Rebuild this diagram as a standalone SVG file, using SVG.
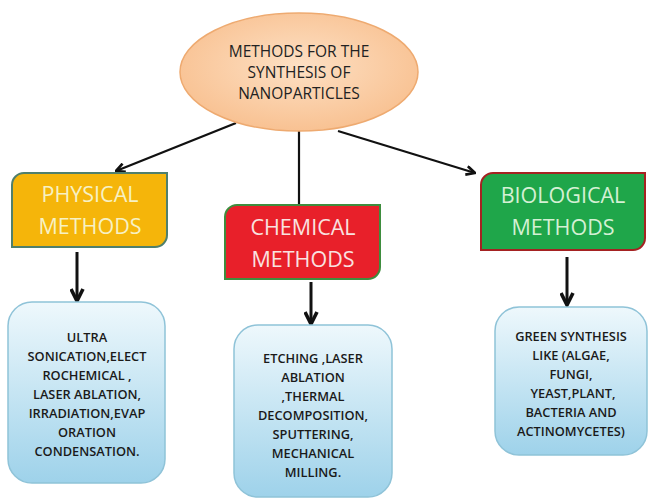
<svg xmlns="http://www.w3.org/2000/svg" width="651" height="501" viewBox="0 0 651 501">
<style>
.hd{font-family:"Open Sans","Liberation Sans",sans-serif;font-size:21.5px;text-anchor:middle}
.bt{font-family:"Open Sans","Liberation Sans",sans-serif;font-size:12.8px;font-weight:600;fill:#1a1a1a;text-anchor:middle}
.et{font-family:"Open Sans","Liberation Sans",sans-serif;font-size:15.5px;fill:#222;text-anchor:middle}
.blue{fill:url(#bg);stroke:#8fc3d8;stroke-width:1.5}
.con{stroke:#111;fill:none}
</style>
<defs>
<linearGradient id="bg" x1="0" y1="0" x2="0" y2="1">
<stop offset="0" stop-color="#eef8fc"/>
<stop offset="1" stop-color="#9ed2ea"/>
</linearGradient>
<radialGradient id="eg" cx="0.5" cy="0.45" r="0.6">
<stop offset="0" stop-color="#fde0c4"/>
<stop offset="1" stop-color="#f8bf8e"/>
</radialGradient>
<marker id="ah" viewBox="0 0 10 10" refX="9" refY="5" markerWidth="5" markerHeight="5" orient="auto" markerUnits="strokeWidth">
<path d="M1,1 L9,5 L1,9" fill="none" stroke="#111" stroke-width="2.4"/>
</marker>
</defs>
<rect width="651" height="501" fill="#fff"/>
<g id="connectors">
<line class="con" x1="236" y1="123" x2="116" y2="171" stroke-width="2.2" marker-end="url(#ah)"/>
<line class="con" x1="299" y1="131" x2="299" y2="205" stroke-width="2.2"/>
<line class="con" x1="338" y1="131" x2="475" y2="173" stroke-width="2.2" marker-end="url(#ah)"/>
<line class="con" x1="77" y1="252" x2="77" y2="301" stroke-width="3" marker-end="url(#ah)"/>
<line class="con" x1="311" y1="282" x2="311" y2="324" stroke-width="3" marker-end="url(#ah)"/>
<line class="con" x1="567" y1="257" x2="567" y2="305" stroke-width="3" marker-end="url(#ah)"/>
</g>
<g id="root">
<ellipse cx="299" cy="72" rx="119" ry="59" fill="url(#eg)" stroke="#eeaa70" stroke-width="1.5"/>
<text class="et" x="299" y="57">METHODS FOR THE</text>
<text class="et" x="299" y="78">SYNTHESIS OF</text>
<text class="et" x="299" y="99">NANOPARTICLES</text>
</g>
<g id="physical">
<path d="M24,173 H167 V235 A12,12 0 0 1 155,247 H12 V185 A12,12 0 0 1 24,173 Z" fill="#f5b50a" stroke="#4f7f6c" stroke-width="2"/>
<text class="hd" x="90" y="202" fill="#f7f1c4">PHYSICAL</text>
<text class="hd" x="90" y="234" fill="#f7f1c4">METHODS</text>
</g>
<g id="chemical">
<path d="M237,205 H380 V267 A12,12 0 0 1 368,279 H225 V217 A12,12 0 0 1 237,205 Z" fill="#e8202a" stroke="#3e8d3e" stroke-width="2"/>
<text class="hd" x="303" y="235" fill="#f9e2e0">CHEMICAL</text>
<text class="hd" x="303" y="267" fill="#f9e2e0">METHODS</text>
</g>
<g id="biological">
<path d="M493,173 H645 V238 A12,12 0 0 1 633,250 H481 V185 A12,12 0 0 1 493,173 Z" fill="#1fa64a" stroke="#a52222" stroke-width="2"/>
<text class="hd" x="563" y="203" fill="#d4f0d4">BIOLOGICAL</text>
<text class="hd" x="563" y="235" fill="#d4f0d4">METHODS</text>
</g>
<g id="physical-list">
<rect class="blue" x="8" y="302" width="157" height="181" rx="24"/>
<text class="bt" x="87" y="342">ULTRA</text>
<text class="bt" x="87" y="361">SONICATION,ELECT</text>
<text class="bt" x="87" y="380">ROCHEMICAL ,</text>
<text class="bt" x="87" y="399">LASER ABLATION,</text>
<text class="bt" x="87" y="418">IRRADIATION,EVAP</text>
<text class="bt" x="87" y="437">ORATION</text>
<text class="bt" x="87" y="456">CONDENSATION.</text>
</g>
<g id="chemical-list">
<rect class="blue" x="234" y="325" width="158" height="172" rx="24"/>
<text class="bt" x="313" y="363">ETCHING ,LASER</text>
<text class="bt" x="313" y="382">ABLATION</text>
<text class="bt" x="313" y="401">,THERMAL</text>
<text class="bt" x="313" y="420">DECOMPOSITION,</text>
<text class="bt" x="313" y="439">SPUTTERING,</text>
<text class="bt" x="313" y="458">MECHANICAL</text>
<text class="bt" x="313" y="477">MILLING.</text>
</g>
<g id="biological-list">
<rect class="blue" x="495" y="307" width="152" height="148" rx="24"/>
<text class="bt" x="571" y="341">GREEN SYNTHESIS</text>
<text class="bt" x="571" y="360">LIKE (ALGAE,</text>
<text class="bt" x="571" y="379">FUNGI,</text>
<text class="bt" x="573" y="398">YEAST,PLANT,</text>
<text class="bt" x="571" y="417">BACTERIA AND</text>
<text class="bt" x="571" y="436">ACTINOMYCETES)</text>
</g>
</svg>
